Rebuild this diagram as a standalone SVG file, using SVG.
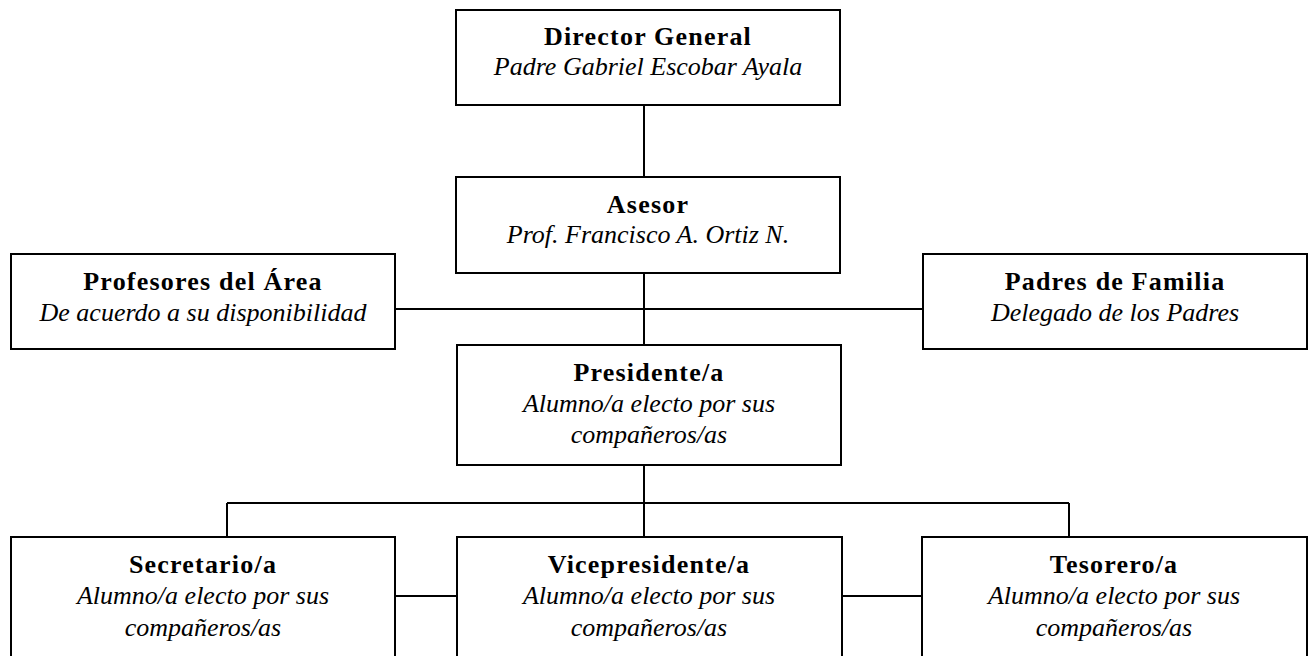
<svg xmlns="http://www.w3.org/2000/svg" width="1309" height="656" viewBox="0 0 1309 656">
<style>
.box{fill:#fff;stroke:#000;stroke-width:2}
.ln{stroke:#000;stroke-width:2;fill:none}
text{font-family:"Liberation Serif","DejaVu Serif",serif;font-size:26px;text-anchor:middle;fill:#000}
.b{font-weight:bold;letter-spacing:1.2px}
.i{font-style:italic}
</style>
<rect width="1309" height="656" fill="#fff"/>
<g id="connectors">
<path class="ln" d="M644 105V177M644 273V345M395 309H923M644 465V503M227 503H1069M227 503V537M644 503V537M1069 503V537M395 596H457M842 596H922"/>
</g>
<g id="director"><rect class="box" x="456" y="10" width="384" height="95"/><text class="b" x="648" y="45">Director General</text><text class="i" x="648" y="75">Padre Gabriel Escobar Ayala</text></g>
<g id="asesor"><rect class="box" x="456" y="177" width="384" height="96"/><text class="b" x="648" y="213">Asesor</text><text class="i" x="648" y="243">Prof. Francisco A. Ortiz N.</text></g>
<g id="profesores"><rect class="box" x="11" y="254" width="384" height="95"/><text class="b" x="203" y="290">Profesores del Área</text><text class="i" x="203" y="321">De acuerdo a su disponibilidad</text></g>
<g id="padres"><rect class="box" x="923" y="254" width="384" height="95"/><text class="b" x="1115" y="290">Padres de Familia</text><text class="i" x="1115" y="321">Delegado de los Padres</text></g>
<g id="presidente"><rect class="box" x="457" y="345" width="384" height="120"/><text class="b" x="649" y="381">Presidente/a</text><text class="i" x="649" y="412">Alumno/a electo por sus</text><text class="i" x="649" y="443">compañeros/as</text></g>
<g id="secretario"><rect class="box" x="11" y="537" width="384" height="130"/><text class="b" x="203" y="573">Secretario/a</text><text class="i" x="203" y="604">Alumno/a electo por sus</text><text class="i" x="203" y="636">compañeros/as</text></g>
<g id="vicepresidente"><rect class="box" x="457" y="537" width="385" height="130"/><text class="b" x="649" y="573">Vicepresidente/a</text><text class="i" x="649" y="604">Alumno/a electo por sus</text><text class="i" x="649" y="636">compañeros/as</text></g>
<g id="tesorero"><rect class="box" x="922" y="537" width="385" height="130"/><text class="b" x="1114" y="573">Tesorero/a</text><text class="i" x="1114" y="604">Alumno/a electo por sus</text><text class="i" x="1114" y="636">compañeros/as</text></g>
</svg>
